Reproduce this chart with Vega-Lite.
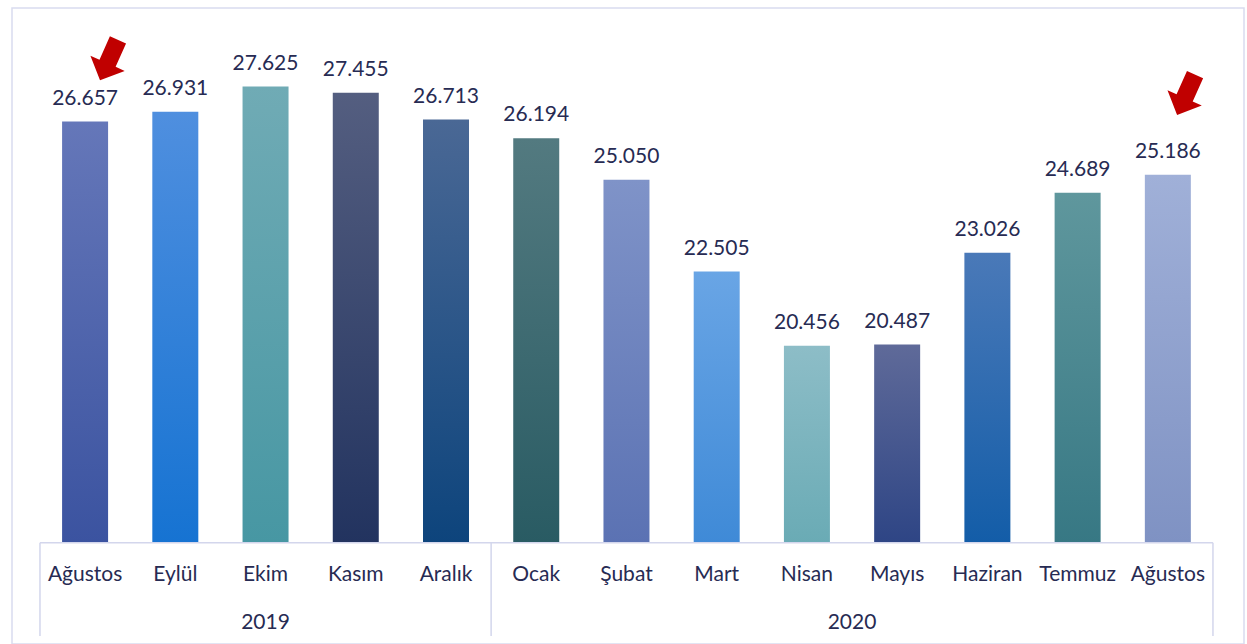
{
  "$schema": "https://vega.github.io/schema/vega-lite/v6.json",
  "width": 1232,
  "height": 636,
  "autosize": "none",
  "padding": {"left": 12, "top": 8, "right": 3, "bottom": 0},
  "background": "white",
  "config": {"view": {"stroke": "#d9dcef", "strokeWidth": 1.5}, "text": {"font": "Lato"}},
  "datasets": {
    "bars": [
      {"key": "2019-08", "i": 0, "month": "Ağustos", "year": "2019", "v": 26.657},
      {"key": "2019-09", "i": 1, "month": "Eylül", "year": "2019", "v": 26.931},
      {"key": "2019-10", "i": 2, "month": "Ekim", "year": "2019", "v": 27.625},
      {"key": "2019-11", "i": 3, "month": "Kasım", "year": "2019", "v": 27.455},
      {"key": "2019-12", "i": 4, "month": "Aralık", "year": "2019", "v": 26.713},
      {"key": "2020-01", "i": 5, "month": "Ocak", "year": "2020", "v": 26.194},
      {"key": "2020-02", "i": 6, "month": "Şubat", "year": "2020", "v": 25.050},
      {"key": "2020-03", "i": 7, "month": "Mart", "year": "2020", "v": 22.505},
      {"key": "2020-04", "i": 8, "month": "Nisan", "year": "2020", "v": 20.456},
      {"key": "2020-05", "i": 9, "month": "Mayıs", "year": "2020", "v": 20.487},
      {"key": "2020-06", "i": 10, "month": "Haziran", "year": "2020", "v": 23.026},
      {"key": "2020-07", "i": 11, "month": "Temmuz", "year": "2020", "v": 24.689},
      {"key": "2020-08", "i": 12, "month": "Ağustos", "year": "2020", "v": 25.186}
    ],
    "bounds": [{"b": -0.5}, {"b": 4.5}, {"b": 12.5}],
    "baseline": [{"a": -0.5, "b": 12.5}],
    "arrows": [{"i": 0.265, "v": 28.36}, {"i": 12.202, "v": 27.40}]
  },
  "data": {"name": "bars"},
  "layer": [
    {
      "encoding": {
        "x": {"field": "i", "type": "quantitative", "scale": {"domain": [-0.81, 12.844], "nice": false, "zero": false, "padding": 0}, "axis": null},
        "y": {"field": "v", "type": "quantitative", "scale": {"domain": [12.2, 29.8], "nice": false, "zero": false}, "axis": null},
        "y2": {"datum": 15}
      },
      "layer": [
        {"transform": [{"filter": "datum.key == '2019-08'"}], "mark": {"type": "bar", "width": 46, "color": {"gradient": "linear", "x1": 0, "y1": 0, "x2": 0, "y2": 1, "stops": [{"offset": 0, "color": "#6577b9"}, {"offset": 1, "color": "#3b53a0"}]}}},
        {"transform": [{"filter": "datum.key == '2019-09'"}], "mark": {"type": "bar", "width": 46, "color": {"gradient": "linear", "x1": 0, "y1": 0, "x2": 0, "y2": 1, "stops": [{"offset": 0, "color": "#4f8fdf"}, {"offset": 1, "color": "#1673d2"}]}}},
        {"transform": [{"filter": "datum.key == '2019-10'"}], "mark": {"type": "bar", "width": 46, "color": {"gradient": "linear", "x1": 0, "y1": 0, "x2": 0, "y2": 1, "stops": [{"offset": 0, "color": "#70abb5"}, {"offset": 1, "color": "#4797a3"}]}}},
        {"transform": [{"filter": "datum.key == '2019-11'"}], "mark": {"type": "bar", "width": 46, "color": {"gradient": "linear", "x1": 0, "y1": 0, "x2": 0, "y2": 1, "stops": [{"offset": 0, "color": "#545e80"}, {"offset": 1, "color": "#22335f"}]}}},
        {"transform": [{"filter": "datum.key == '2019-12'"}], "mark": {"type": "bar", "width": 46, "color": {"gradient": "linear", "x1": 0, "y1": 0, "x2": 0, "y2": 1, "stops": [{"offset": 0, "color": "#4a6895"}, {"offset": 1, "color": "#0d447c"}]}}},
        {"transform": [{"filter": "datum.key == '2020-01'"}], "mark": {"type": "bar", "width": 46, "color": {"gradient": "linear", "x1": 0, "y1": 0, "x2": 0, "y2": 1, "stops": [{"offset": 0, "color": "#537a80"}, {"offset": 1, "color": "#295b63"}]}}},
        {"transform": [{"filter": "datum.key == '2020-02'"}], "mark": {"type": "bar", "width": 46, "color": {"gradient": "linear", "x1": 0, "y1": 0, "x2": 0, "y2": 1, "stops": [{"offset": 0, "color": "#7f93c8"}, {"offset": 1, "color": "#5b72b3"}]}}},
        {"transform": [{"filter": "datum.key == '2020-03'"}], "mark": {"type": "bar", "width": 46, "color": {"gradient": "linear", "x1": 0, "y1": 0, "x2": 0, "y2": 1, "stops": [{"offset": 0, "color": "#69a5e5"}, {"offset": 1, "color": "#3f8ad7"}]}}},
        {"transform": [{"filter": "datum.key == '2020-04'"}], "mark": {"type": "bar", "width": 46, "color": {"gradient": "linear", "x1": 0, "y1": 0, "x2": 0, "y2": 1, "stops": [{"offset": 0, "color": "#8dbdc7"}, {"offset": 1, "color": "#6aabb5"}]}}},
        {"transform": [{"filter": "datum.key == '2020-05'"}], "mark": {"type": "bar", "width": 46, "color": {"gradient": "linear", "x1": 0, "y1": 0, "x2": 0, "y2": 1, "stops": [{"offset": 0, "color": "#5f6a99"}, {"offset": 1, "color": "#2e4585"}]}}},
        {"transform": [{"filter": "datum.key == '2020-06'"}], "mark": {"type": "bar", "width": 46, "color": {"gradient": "linear", "x1": 0, "y1": 0, "x2": 0, "y2": 1, "stops": [{"offset": 0, "color": "#4a79b8"}, {"offset": 1, "color": "#135da8"}]}}},
        {"transform": [{"filter": "datum.key == '2020-07'"}], "mark": {"type": "bar", "width": 46, "color": {"gradient": "linear", "x1": 0, "y1": 0, "x2": 0, "y2": 1, "stops": [{"offset": 0, "color": "#5f979d"}, {"offset": 1, "color": "#377884"}]}}},
        {"transform": [{"filter": "datum.key == '2020-08'"}], "mark": {"type": "bar", "width": 46, "color": {"gradient": "linear", "x1": 0, "y1": 0, "x2": 0, "y2": 1, "stops": [{"offset": 0, "color": "#a0b0d8"}, {"offset": 1, "color": "#7f92c3"}]}}}
      ]
    },
    {
      "mark": {"type": "text", "dy": -17, "baseline": "alphabetic", "fontSize": 21, "color": "#272b53"},
      "encoding": {
        "x": {"field": "i", "type": "quantitative", "scale": {"domain": [-0.81, 12.844], "nice": false, "zero": false, "padding": 0}, "axis": null},
        "y": {"field": "v", "type": "quantitative", "scale": {"domain": [12.2, 29.8], "nice": false, "zero": false}, "axis": null},
        "text": {"field": "v", "type": "quantitative", "format": ".3f"}
      }
    },
    {
      "mark": {"type": "text", "baseline": "alphabetic", "fontSize": 21, "color": "#272b53"},
      "encoding": {
        "x": {"field": "i", "type": "quantitative", "scale": {"domain": [-0.81, 12.844], "nice": false, "zero": false, "padding": 0}, "axis": null},
        "y": {"datum": 13.93, "type": "quantitative", "scale": {"domain": [12.2, 29.8], "nice": false, "zero": false}, "axis": null},
        "text": {"field": "month", "type": "nominal"}
      }
    },
    {
      "transform": [{"aggregate": [{"op": "mean", "field": "i", "as": "i"}], "groupby": ["year"]}],
      "mark": {"type": "text", "baseline": "alphabetic", "fontSize": 21, "color": "#272b53"},
      "encoding": {
        "x": {"field": "i", "type": "quantitative", "scale": {"domain": [-0.81, 12.844], "nice": false, "zero": false, "padding": 0}, "axis": null},
        "y": {"datum": 12.62, "type": "quantitative", "scale": {"domain": [12.2, 29.8], "nice": false, "zero": false}, "axis": null},
        "text": {"field": "year", "type": "nominal"}
      }
    },
    {
      "data": {"name": "baseline"},
      "mark": {"type": "rule", "color": "#d3d6ec", "strokeWidth": 1.5},
      "encoding": {
        "x": {"field": "a", "type": "quantitative", "scale": {"domain": [-0.81, 12.844], "nice": false, "zero": false, "padding": 0}, "axis": null},
        "x2": {"field": "b"},
        "y": {"datum": 15, "type": "quantitative", "scale": {"domain": [12.2, 29.8], "nice": false, "zero": false}, "axis": null}
      }
    },
    {
      "data": {"name": "bounds"},
      "mark": {"type": "rule", "color": "#d3d6ec", "strokeWidth": 1.5},
      "encoding": {
        "x": {"field": "b", "type": "quantitative", "scale": {"domain": [-0.81, 12.844], "nice": false, "zero": false, "padding": 0}, "axis": null},
        "y": {"datum": 15, "type": "quantitative", "scale": {"domain": [12.2, 29.8], "nice": false, "zero": false}, "axis": null},
        "y2": {"datum": 12.42}
      }
    },
    {
      "data": {"name": "arrows"},
      "mark": {"type": "point", "shape": "M -0.4 -1 L 0.4 -1 L 0.4 0.16 L 0.85 0.16 L 0 1 L -0.85 0.16 L -0.4 0.16 Z", "filled": true, "color": "#c00000", "opacity": 1, "size": 1950, "angle": 24, "strokeWidth": 0},
      "encoding": {
        "x": {"field": "i", "type": "quantitative", "scale": {"domain": [-0.81, 12.844], "nice": false, "zero": false, "padding": 0}, "axis": null},
        "y": {"field": "v", "type": "quantitative", "scale": {"domain": [12.2, 29.8], "nice": false, "zero": false}, "axis": null}
      }
    }
  ]
}
